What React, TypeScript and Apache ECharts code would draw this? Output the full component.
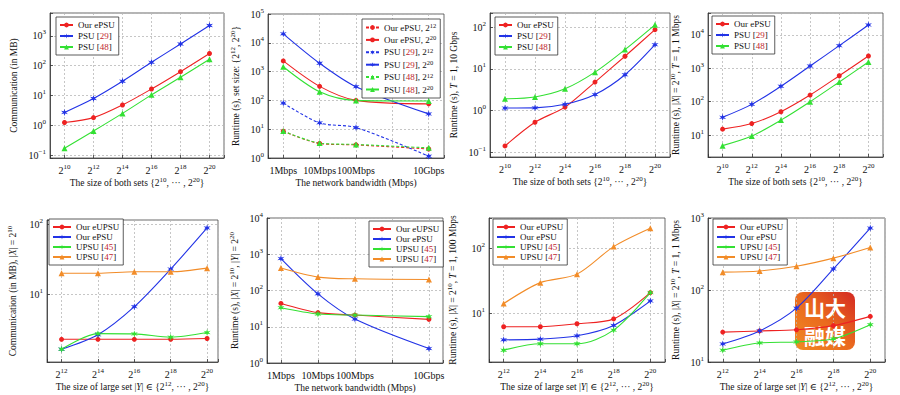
import { useEffect, useRef } from 'react';
import * as echarts from 'echarts';

// ---------------- data ----------------
const sizeExps = [10, 12, 14, 16, 18, 20];
const largeExps = [12, 14, 16, 18, 20];
const bandwidthMbps = [1, 10, 100, 10000];
const bandwidthLabels = ['1Mbps', '10Mbps', '100Mbps', '10Gbps'];

// Panel 1: communication (MB)
const p1Ours = [1.24, 1.8, 4.8, 16.5, 63, 257];
const p1Psu29 = [2.7, 7.9, 30, 130, 535, 2240];
const p1Psu48 = [0.17, 0.64, 2.5, 10.5, 41, 165];

// Panel 2: runtime vs bandwidth
const p2Ours12 = [8.5, 3.2, 2.85, 2.06];
const p2Ours20 = [2350, 307, 100, 76];
const p2Psu29s12 = [81, 16.6, 11.4, 1.15];
const p2Psu29s20 = [20500, 1950, 300, 34];
const p2Psu48s12 = [8.7, 3.3, 2.95, 2.25];
const p2Psu48s20 = [1480, 200, 100, 95];

// Panel 3: runtime, T = 1, 10 Gbps
const p3Ours = [0.14, 0.52, 1.2, 4.8, 20, 87];
const p3Psu29 = [1.14, 1.15, 1.4, 2.4, 7.2, 38];
const p3Psu48 = [1.9, 2.1, 3.3, 8.3, 29, 114];

// Panel 4: runtime, 1 Mbps
const p4Ours = [15, 22, 50, 158, 600, 2350];
const p4Psu29 = [34, 83, 290, 1175, 4800, 20000];
const p4Psu48 = [4.8, 9.3, 28, 100, 390, 1550];

// Panel 5: communication, unbalanced
const p5Eupsu = [2.24, 2.24, 2.24, 2.24, 2.3];
const p5Epsu = [1.61, 2.6, 6.6, 23, 90];
const p5Upsu45 = [1.61, 2.7, 2.68, 2.4, 2.8];
const p5Upsu47 = [20, 20, 21, 21, 23.7];

// Panel 6: runtime vs bandwidth, unbalanced
const p6Eupsu = [44, 24.5, 21, 16];
const p6Epsu = [760, 81, 16.3, 2.5];
const p6Upsu45 = [33.5, 22.5, 21, 19];
const p6Upsu47 = [415, 234, 210, 202];

// Panel 7: runtime, 100 Mbps
const p7Eupsu = [6.2, 6.2, 6.9, 8.2, 20.8];
const p7Epsu = [3.9, 4.0, 4.5, 6.5, 15.5];
const p7Upsu45 = [2.7, 3.4, 3.4, 5.5, 20.8];
const p7Upsu47 = [14.1, 29.6, 40, 106, 203];

// Panel 8: runtime, 1 Mbps
const p8Eupsu = [26, 27, 28, 32, 43];
const p8Epsu = [17.8, 27, 56, 196, 725];
const p8Upsu45 = [14.6, 18.4, 19, 21, 33];
const p8Upsu47 = [177, 184, 214, 277, 390];

// ---------------- styles ----------------
const FONT = '"Liberation Serif", "DejaVu Serif", serif';
const RED = '#ee2222';
const BLUE = '#2233e6';
const GREEN = '#33e033';
const ORANGE = '#f28c28';
const CITE = '#c0262d';
const STAR =
  'path://M0,-10 L1.9,-3.3 L8.66,-5 L3.8,0 L8.66,5 L1.9,3.3 L0,10 L-1.9,3.3 L-8.66,5 L-3.8,0 L-8.66,-5 L-1.9,-3.3 Z';

const RICH: any = {
  s: { fontSize: 7, lineHeight: 8, verticalAlign: 'top', fontFamily: FONT, color: '#111' },
  i: { fontStyle: 'italic', fontFamily: FONT, color: '#111' },
  c: { color: CITE, fontFamily: FONT },
};
const RICH_LG: any = {
  s: { fontSize: 6.5, lineHeight: 7, verticalAlign: 'top', fontFamily: FONT, color: '#111' },
  c: { color: CITE, fontFamily: FONT, fontSize: 9 },
};

const XN_SIZE = 'The size of both sets {2{s|10}, \u00b7\u00b7\u00b7 , 2{s|20}}';
const XN_BW = 'The network bandwidth (Mbps)';
const XN_LARGE = 'The size of large set |{i|Y}| \u2208 {2{s|12}, \u00b7\u00b7\u00b7 , 2{s|20}}';

type Line = [string, number[], number[], string, string, boolean];

const panels: any[] = [
  {
    grid: { left: 50, top: 13, width: 174, height: 145 },
    x: 'size', xr: [9, 21], yr: [0.0794, 5890], nameGap: 30,
    yName: 'Communication (in MB)', xName: XN_SIZE,
    lg: { left: 56, top: 17, iw: 13, lh: 10, gap: 1 },
    lines: [
      ['Our ePSU', sizeExps, p1Ours, RED, 'circle', false],
      ['PSU [{c|29}]', sizeExps, p1Psu29, BLUE, STAR, false],
      ['PSU [{c|48}]', sizeExps, p1Psu48, GREEN, 'triangle', false],
    ] as Line[],
  },
  {
    grid: { left: 268, top: 14, width: 176, height: 144 },
    x: 'bw', xr: [0.38, 26300], yr: [1, 100000], nameGap: 26,
    yName: 'Runtime (s), set size: {2{s|12}, 2{s|20}}', xName: XN_BW,
    lg: { left: 362, top: 19, iw: 13, lh: 11, gap: 1.4 },
    lines: [
      ['Our ePSU, 2{s|12}', bandwidthMbps, p2Ours12, RED, 'circle', true],
      ['Our ePSU, 2{s|20}', bandwidthMbps, p2Ours20, RED, 'circle', false],
      ['PSU [{c|29}], 2{s|12}', bandwidthMbps, p2Psu29s12, BLUE, STAR, true],
      ['PSU [{c|29}], 2{s|20}', bandwidthMbps, p2Psu29s20, BLUE, STAR, false],
      ['PSU [{c|48}], 2{s|12}', bandwidthMbps, p2Psu48s12, GREEN, 'triangle', true],
      ['PSU [{c|48}], 2{s|20}', bandwidthMbps, p2Psu48s20, GREEN, 'triangle', false],
    ] as Line[],
  },
  {
    grid: { left: 490, top: 13, width: 180, height: 144 },
    x: 'size', xr: [9, 21], yr: [0.0759, 219], nameGap: 30,
    yName: 'Runtime (s), {i|T} = 1, 10 Gbps', xName: XN_SIZE,
    lg: { left: 495, top: 17, iw: 13, lh: 10, gap: 1 },
    lines: [
      ['Our ePSU', sizeExps, p3Ours, RED, 'circle', false],
      ['PSU [{c|29}]', sizeExps, p3Psu29, BLUE, STAR, false],
      ['PSU [{c|48}]', sizeExps, p3Psu48, GREEN, 'triangle', false],
    ] as Line[],
  },
  {
    grid: { left: 708, top: 13, width: 175, height: 144 },
    x: 'size', xr: [9, 21], yr: [2.19, 45700], nameGap: 26,
    yName: 'Runtime (s), |{i|X}| = 2{s|10}, {i|T} = 1, 1 Mbps', xName: XN_SIZE,
    lg: { left: 712, top: 16, iw: 13, lh: 10, gap: 1 },
    lines: [
      ['Our ePSU', sizeExps, p4Ours, RED, 'circle', false],
      ['PSU [{c|29}]', sizeExps, p4Psu29, BLUE, STAR, false],
      ['PSU [{c|48}]', sizeExps, p4Psu48, GREEN, 'triangle', false],
    ] as Line[],
  },
  {
    grid: { left: 47, top: 220, width: 171, height: 142 },
    x: 'large', xr: [11.2, 20.6], yr: [1.055, 117], nameGap: 28,
    yName: 'Communication (in MB), |{i|X}| = 2{s|10}', xName: XN_LARGE,
    lg: { left: 49, top: 219, iw: 18, lh: 10, gap: 0 },
    lines: [
      ['Our eUPSU', largeExps, p5Eupsu, RED, 'circle', false],
      ['Our ePSU', largeExps, p5Epsu, BLUE, STAR, false],
      ['UPSU [{c|45}]', largeExps, p5Upsu45, GREEN, STAR, false],
      ['UPSU [{c|47}]', largeExps, p5Upsu47, ORANGE, 'triangle', false],
    ] as Line[],
  },
  {
    grid: { left: 267, top: 218, width: 176, height: 145 },
    x: 'bw', xr: [0.42, 24000], yr: [1, 10000], nameGap: 26,
    yName: 'Runtime (s), |{i|X}| = 2{s|10}, |{i|Y}| = 2{s|20}', xName: XN_BW,
    lg: { left: 369, top: 221, iw: 18, lh: 10, gap: 0 },
    lines: [
      ['Our eUPSU', bandwidthMbps, p6Eupsu, RED, 'circle', false],
      ['Our ePSU', bandwidthMbps, p6Epsu, BLUE, STAR, false],
      ['UPSU [{c|45}]', bandwidthMbps, p6Upsu45, GREEN, STAR, false],
      ['UPSU [{c|47}]', bandwidthMbps, p6Upsu47, ORANGE, 'triangle', false],
    ] as Line[],
  },
  {
    grid: { left: 489, top: 218, width: 176, height: 144 },
    x: 'large', xr: [11.2, 20.8], yr: [1.78, 292], nameGap: 30,
    yName: 'Runtime (s), |{i|X}| = 2{s|10}, {i|T} = 1, 100 Mbps', xName: XN_LARGE,
    lg: { left: 493, top: 219, iw: 18, lh: 10, gap: 0 },
    lines: [
      ['Our eUPSU', largeExps, p7Eupsu, RED, 'circle', false],
      ['Our ePSU', largeExps, p7Epsu, BLUE, STAR, false],
      ['UPSU [{c|45}]', largeExps, p7Upsu45, GREEN, STAR, false],
      ['UPSU [{c|47}]', largeExps, p7Upsu47, ORANGE, 'triangle', false],
    ] as Line[],
  },
  {
    grid: { left: 708, top: 218, width: 177, height: 144 },
    x: 'large', xr: [11.2, 20.8], yr: [10, 1000], nameGap: 26,
    yName: 'Runtime (s), |{i|X}| = 2{s|10}, {i|T} = 1, 1 Mbps', xName: XN_LARGE,
    lg: { left: 713, top: 219, iw: 18, lh: 10, gap: 0 },
    lines: [
      ['Our eUPSU', largeExps, p8Eupsu, RED, 'circle', false],
      ['Our ePSU', largeExps, p8Epsu, BLUE, STAR, false],
      ['UPSU [{c|45}]', largeExps, p8Upsu45, GREEN, STAR, false],
      ['UPSU [{c|47}]', largeExps, p8Upsu47, ORANGE, 'triangle', false],
    ] as Line[],
  },
];

const axisLineStyle = { color: '#333', width: 0.8 };
const splitStyle = { show: true, lineStyle: { type: [2, 2], color: '#b8b8b8', width: 0.8 } };
const labelBase = { fontFamily: FONT, fontSize: 10, color: '#111', lineHeight: 14, rich: RICH };
const nameStyle = { fontFamily: FONT, fontSize: 9.5, color: '#111', lineHeight: 13, rich: RICH };

function logLabel(v: number) {
  const k = Math.log10(v);
  const r = Math.round(k);
  if (Math.abs(k - r) > 1e-6) return '';
  return '10{s|' + (r < 0 ? '\u2212' + -r : r) + '}';
}

function buildOption() {
  const grid: any[] = [];
  const xAxis: any[] = [];
  const yAxis: any[] = [];
  const series: any[] = [];
  const legend: any[] = [];
  const display: Record<string, string> = {};

  panels.forEach((p, gi) => {
    grid.push({
      ...p.grid,
      show: true,
      borderColor: '#444',
      borderWidth: 0.8,
      backgroundColor: '#fff',
      containLabel: false,
      outerBoundsMode: 'none',
    });
    const common = {
      gridIndex: gi,
      axisLine: { show: true, onZero: false, lineStyle: axisLineStyle },
      axisTick: { show: true, inside: true, length: 3, lineStyle: axisLineStyle },
      splitLine: splitStyle,
      nameLocation: 'middle',
      nameTextStyle: nameStyle,
      nameMoveOverlap: false,
    };
    let xa: any;
    if (p.x === 'bw') {
      xa = {
        ...common,
        type: 'log',
        logBase: 10,
        min: p.xr[0],
        max: p.xr[1],
        axisLabel: {
          ...labelBase,
          margin: 5,
          formatter: (v: number) => {
            const idx = bandwidthMbps.findIndex((b) => Math.abs(b - v) / b < 1e-6);
            return idx >= 0 ? bandwidthLabels[idx] : '';
          },
        },
      };
    } else {
      const lo = p.x === 'size' ? 10 : 12;
      xa = {
        ...common,
        type: 'value',
        min: p.xr[0],
        max: p.xr[1],
        axisLabel: {
          ...labelBase,
          margin: 5,
          formatter: (v: number) =>
            Math.abs(v - Math.round(v)) < 1e-6 && Math.round(v) % 2 === 0 && v >= lo && v <= 20
              ? '2{s|' + Math.round(v) + '}'
              : '',
        },
      };
    }
    xa.name = p.xName;
    xa.nameGap = 18;
    xAxis.push(xa);

    yAxis.push({
      ...common,
      type: 'log',
      logBase: 10,
      min: p.yr[0],
      max: p.yr[1],
      name: p.yName,
      nameGap: p.nameGap,
      nameRotate: 90,
      axisLabel: { ...labelBase, margin: 4, formatter: logLabel },
    });

    const names: string[] = [];
    (p.lines as Line[]).forEach(([label, xs, ys, color, symbol, dashed], li) => {
      const nm = 'p' + (gi + 1) + '_' + li;
      display[nm] = label;
      names.push(nm);
      series.push({
        type: 'line',
        name: nm,
        xAxisIndex: gi,
        yAxisIndex: gi,
        data: xs.map((x, i) => [x, ys[i]]),
        smooth: 0.3,
        symbol,
        symbolSize: symbol === 'circle' ? 5 : symbol === 'triangle' ? 6 : 7,
        showSymbol: true,
        itemStyle: { color },
        lineStyle: { color, width: 1.1, type: dashed ? [3, 2] : 'solid' },
        emphasis: { disabled: true },
        z: 3,
      });
    });

    legend.push({
      show: true,
      orient: 'vertical',
      left: p.lg.left,
      top: p.lg.top,
      data: names,
      formatter: (n: string) => display[n],
      selectedMode: false,
      backgroundColor: '#fff',
      borderColor: '#333',
      borderWidth: 0.8,
      borderRadius: 0,
      padding: [3, 4, 3, 3],
      itemGap: p.lg.gap,
      itemWidth: p.lg.iw,
      itemHeight: 6,
      textStyle: { fontFamily: FONT, fontSize: 9, color: '#111', lineHeight: p.lg.lh, rich: RICH_LG },
    });
  });

  const logoText = (text: string, y: number) => ({
    type: 'text',
    x: 30,
    y,
    style: {
      text,
      fill: '#fff',
      fontSize: 21,
      fontWeight: 'bold',
      fontFamily: '"Noto Sans CJK SC", sans-serif',
      align: 'center',
      verticalAlign: 'middle',
    },
  });

  return {
    animation: false,
    backgroundColor: '#fff',
    grid,
    xAxis,
    yAxis,
    series,
    legend,
    graphic: [
      {
        type: 'group',
        x: 795,
        y: 292,
        z: 100,
        children: [
          {
            type: 'rect',
            shape: { x: 0, y: 0, width: 60, height: 58, r: 8 },
            style: {
              fill: new echarts.graphic.LinearGradient(0, 1, 1, 0, [
                { offset: 0, color: '#f08a22' },
                { offset: 0.5, color: '#ea6a1e' },
                { offset: 1, color: '#d42a22' },
              ]),
            },
          },
          logoText('山大', 15),
          logoText('融媒', 43),
        ],
      },
    ],
  };
}

export default function App() {
  const ref = useRef<HTMLDivElement>(null);
  useEffect(() => {
    if (!ref.current) return;
    const chart = echarts.init(ref.current, null, { renderer: 'svg' });
    chart.setOption(buildOption() as any);
    return () => chart.dispose();
  }, []);
  return (
    <div
      ref={ref}
      style={{ position: 'fixed', left: 0, top: 0, width: 900, height: 395, background: '#fff' }}
    />
  );
}
